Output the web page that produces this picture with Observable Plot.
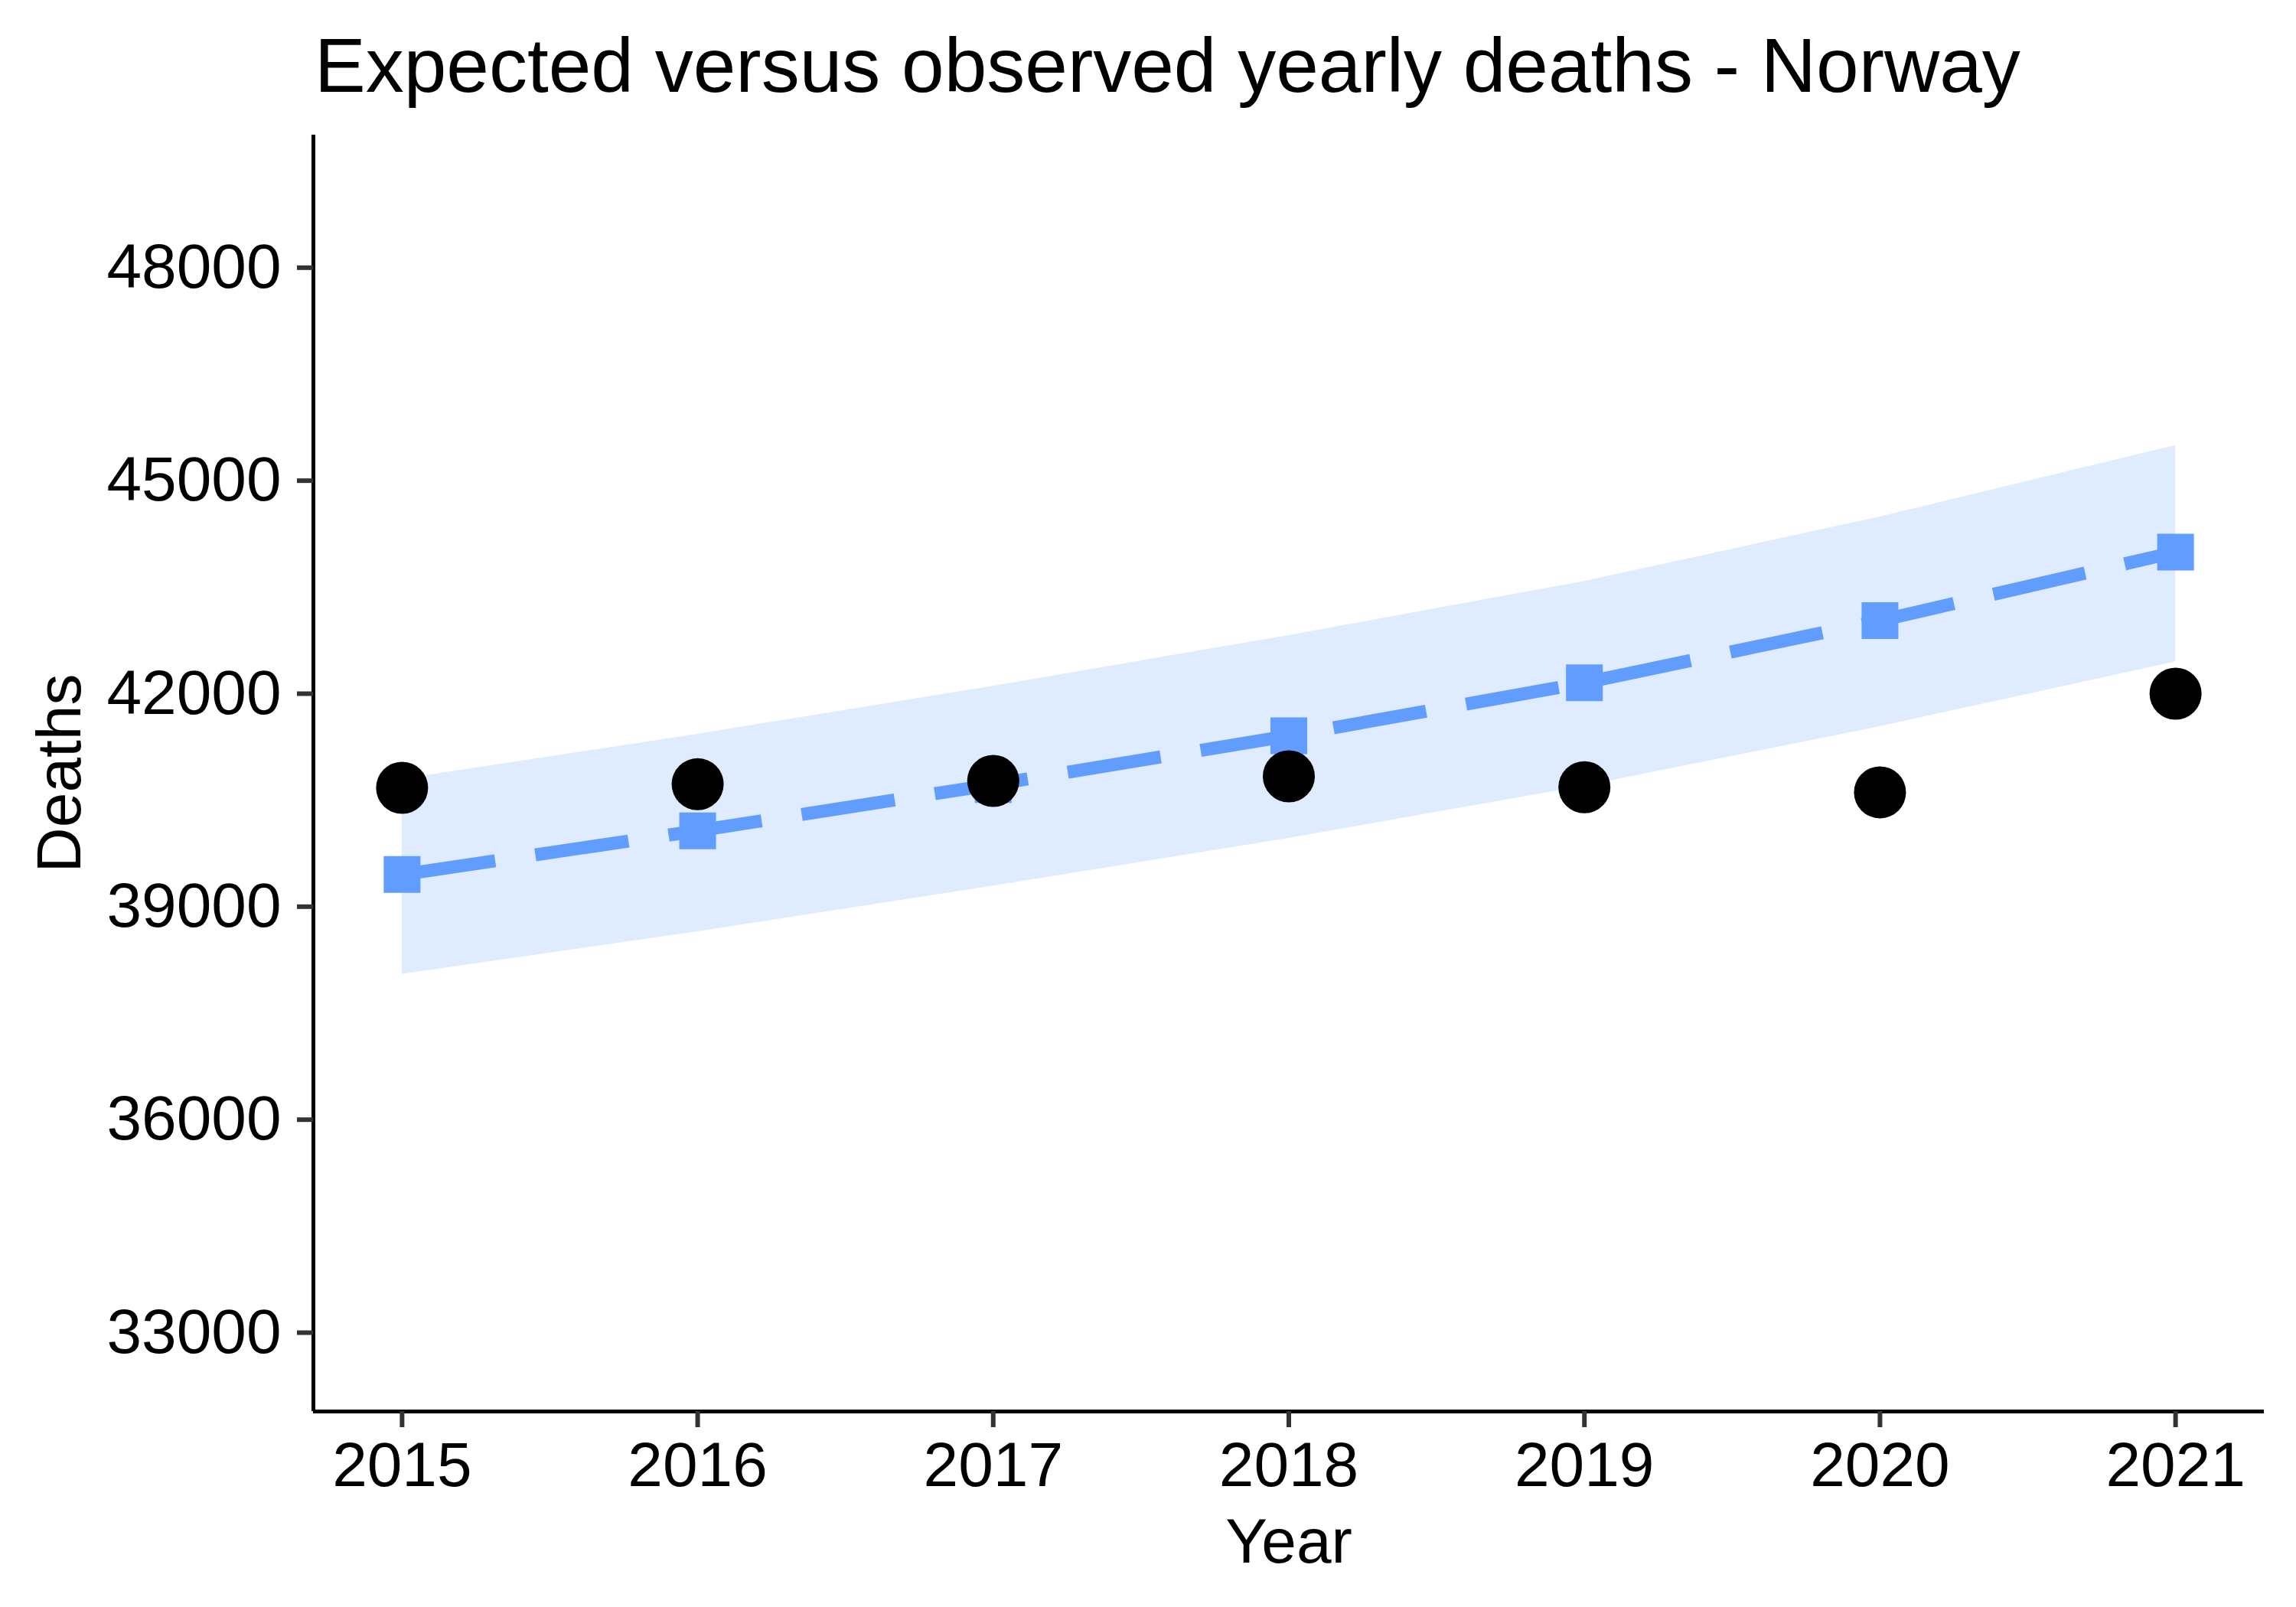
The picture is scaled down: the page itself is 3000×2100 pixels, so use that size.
<!DOCTYPE html>
<html>
<head>
<meta charset="utf-8">
<script src="https://cdn.jsdelivr.net/npm/d3@7"></script>
<script src="https://cdn.jsdelivr.net/npm/@observablehq/plot@0.6"></script>
<style>
  html, body { margin: 0; padding: 0; background: #ffffff; }
  body { width: 3000px; height: 2100px; position: relative; overflow: hidden;
         font-family: "Liberation Sans", Arial, Helvetica, sans-serif; }
  #title { position: absolute; left: 411px; top: 35px; font-size: 100px; line-height: 1;
           color: #000; white-space: nowrap; }
  #chart { position: absolute; left: 0; top: 150px; }
</style>
</head>
<body>
<div id="title">Expected versus observed yearly deaths - Norway</div>
<div id="chart"></div>
<script>
const years    = [2015, 2016, 2017, 2018, 2019, 2020, 2021];
const observed = [40674, 40725, 40771, 40836, 40682, 40610, 42000];
const expected = [39453, 40069, 40720, 41407, 42153, 43029, 43994];
const lower    = [38048, 38648, 39291, 39963, 40699, 41537, 42449];
const upper    = [40796, 41429, 42105, 42819, 43581, 44490, 45495];
const yTicks   = [33000, 36000, 39000, 42000, 45000, 48000];
const xTicks   = years;
const xDomain  = [2014.7, 2021.3];
const yDomain  = [31890, 49868];

const data = years.map((y, i) => ({year: y, observed: observed[i], expected: expected[i], lower: lower[i], upper: upper[i]}));

const blue = "#619CFF";
const font = "Liberation Sans, Arial, Helvetica, sans-serif";

const chart = Plot.plot({
  width: 3000,
  height: 1950,
  marginLeft: 409,
  marginRight: 42,
  marginTop: 26,
  marginBottom: 256,
  style: {fontFamily: font, background: "#ffffff", color: "#000"},
  x: {type: "linear", domain: xDomain},
  y: {type: "linear", domain: yDomain},
  marks: [
    Plot.areaY(data, {x: "year", y1: "lower", y2: "upper", fill: blue, fillOpacity: 0.2}),
    Plot.line(data, {x: "year", y: "expected", stroke: blue, strokeWidth: 17,
                     strokeDasharray: "123,53", strokeLinecap: "butt", strokeLinejoin: "miter"}),
    Plot.dot(data, {x: "year", y: "expected", symbol: "square", r: 27.1, fill: blue, stroke: "none"}),
    Plot.dot(data, {x: "year", y: "observed", r: 34, fill: "#000", stroke: "none"}),
    Plot.ruleX([xDomain[0]], {stroke: "#000", strokeWidth: 5}),
    Plot.ruleY([yDomain[0]], {stroke: "#000", strokeWidth: 5}),
    Plot.axisY(yTicks, {anchor: "left", tickSize: 21, tickPadding: 21, tickFormat: d => String(d),
                        stroke: "#333333", strokeWidth: 6, fill: "#000", fontSize: 82, label: null}),
    Plot.axisX(xTicks, {anchor: "bottom", tickSize: 21, tickPadding: 18, tickFormat: d => String(d),
                        stroke: "#333333", strokeWidth: 6, fill: "#000", fontSize: 82, label: null}),
    Plot.text(["Year"], {frameAnchor: "bottom", textAnchor: "middle", lineAnchor: "bottom",
                         dy: 197, fontSize: 82, fill: "#000"}),
    Plot.text(["Deaths"], {frameAnchor: "left", textAnchor: "middle", lineAnchor: "bottom",
                           rotate: -90, dx: -305, fontSize: 82, fill: "#000"})
  ]
});
document.getElementById("chart").appendChild(chart);
</script>
</body>
</html>
